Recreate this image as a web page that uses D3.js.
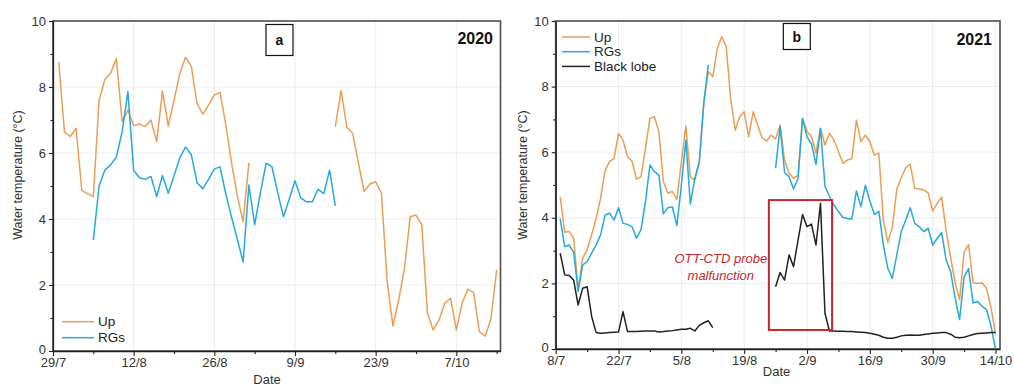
<!DOCTYPE html>
<html>
<head>
<meta charset="utf-8">
<script src="https://cdn.jsdelivr.net/npm/d3@7"></script>
<style>
  body { margin: 0; background: #fff; }
  svg { display: block; font-family: "Liberation Sans", Arial, sans-serif; }
</style>
</head>
<body>
<svg id="chart" width="1014" height="386"></svg>
<script>
// ---- Daily water temperature (°C) ----
// 2020 season, first value on 30/7
const start2020Up = "2020-07-30";
const up2020 = [
  8.75, 6.63, 6.5, 6.75, 4.87, 4.77, 4.68, 7.6, 8.23, 8.42,
  8.86, 6.95, 7.3, 6.83, 6.88, 6.8, 7.0, 6.34, 7.88, 6.82,
  7.6, 8.4, 8.9, 8.63, 7.5, 7.18, 7.45, 7.76, 7.83, 6.85,
  5.69, 4.68, 3.92, 5.7,
  null, null, null, null, null, null, null, null, null, null, null, null, null, null,
  6.8, 7.89, 6.78, 6.6, 5.7, 4.83, 5.06, 5.13, 4.78,
  2.1, 0.76, 1.55, 2.5, 4.07, 4.12, 3.82, 1.14, 0.64, 0.94,
  1.45, 1.6, 0.64, 1.45, 1.87, 1.77, 0.59, 0.45, 0.96, 2.46
];
// RGs 2020, first value on 5/8
const start2020Rgs = "2020-08-05";
const rgs2020 = [
  3.36, 5.0, 5.48, 5.64, 5.88, 6.65, 7.86, 5.47, 5.25, 5.2,
  5.29, 4.68, 5.32, 4.78, 5.3, 5.85, 6.18, 5.95, 5.1, 4.92,
  5.2, 5.52, 5.58, 4.75, 4.05, 3.38, 2.7, 5.03, 3.83, 4.8,
  5.69, 5.58, 4.8, 4.07, 4.6, 5.16, 4.64, 4.52, 4.52, 4.9,
  4.77, 5.48, 4.4
];

// 2021 season, all series start on 9/7
const start2021 = "2021-07-09";
const up2021 = [
  4.64, 3.56, 3.58, 3.38, 1.82, 2.77, 3.02, 3.48, 3.98, 4.59,
  5.44, 5.71, 5.81, 6.57, 6.37, 5.86, 5.73, 5.18, 5.25, 6.12,
  7.03, 7.08, 6.62, 5.1, 4.75, 4.8, 4.56, 5.7, 6.8, 5.25,
  5.15, 5.7, 7.5, 8.45, 8.3, 9.16, 9.52, 9.22, 7.6, 6.67,
  7.08, 7.23, 6.47, 7.23, 6.83, 6.44, 6.34, 6.52, 6.4, 6.83,
  5.76, 5.36, 5.2, 5.3, 7.03, 6.63, 6.47, 5.97, 6.73, 6.22,
  6.58, 6.37, 6.02, 5.66, 5.76, 5.81, 6.98, 6.32, 6.52, 6.32,
  5.91, 5.97, 3.93, 3.25, 3.7, 4.87, 5.22, 5.53, 5.63, 4.9,
  4.88, 4.85, 4.75, 4.21, 4.44, 4.63, 3.6, 2.79, 2.02, 1.5,
  2.95, 3.18, 2.03, 2.0, 2.02, 1.85, 1.25, 0.45
];
const rgs2021 = [
  3.98, 3.12, 3.17, 2.95, 1.75, 2.56, 2.66, 2.92, 3.17, 3.48,
  4.08, 4.14, 3.93, 4.31, 3.83, 3.8, 3.73, 3.38, 3.63, 4.49,
  5.61, 5.41, 5.3, 4.12, 4.31, 4.33, 3.76, 5.0, 6.37, 4.42,
  5.2, 5.71, 7.5, 8.66,
  null, null, null, null, null, null, null, null, null, null, null, null, null, null,
  5.51, 6.78,
  5.38, 5.25, 4.88, 5.2, 7.03, 6.47, 6.25, 5.63, 6.73, 4.96,
  4.65, 4.39, 4.19, 4.01, 3.98, 3.96, 4.82, 4.34, 4.99, 4.52,
  4.1, 4.2, 3.17, 2.46, 2.15, 2.87, 3.58, 3.93, 4.31, 3.83,
  3.73, 3.58, 3.68, 3.17, 3.37, 3.55, 2.71, 2.36, 1.55, 0.9,
  2.2, 2.45, 1.4, 1.45, 1.3, 1.2, 0.7, 0.0
];
const black2021 = [
  2.92, 2.26, 2.24, 2.1, 1.34, 1.85, 1.9, 1.0, 0.5, 0.48,
  0.49, 0.5, 0.51, 0.52, 1.14, 0.53, 0.53, 0.53, 0.54, 0.55,
  0.55, 0.55, 0.52, 0.53, 0.55, 0.56, 0.58, 0.6, 0.6, 0.63,
  0.55, 0.72, 0.8, 0.86, 0.65,
  null, null, null, null, null, null, null, null, null, null, null, null, null,
  1.9, 2.33,
  2.1, 2.87, 2.51, 3.32, 4.1, 3.73, 3.81, 3.17, 4.44, 1.09,
  0.55, 0.55, 0.54, 0.54, 0.53, 0.53, 0.52, 0.51, 0.5, 0.48,
  0.45, 0.42, 0.36, 0.33, 0.33, 0.36, 0.4, 0.42, 0.43, 0.42,
  0.42, 0.44, 0.46, 0.48, 0.49, 0.5, 0.5, 0.45, 0.36, 0.34,
  0.36, 0.4, 0.44, 0.47, 0.48, 0.49, 0.5, 0.5
];

// Axis tick labels
const ticks2020 = ["29/7", "12/8", "26/8", "9/9", "23/9", "7/10"];
const ticks2021 = ["8/7", "22/7", "5/8", "19/8", "2/9", "16/9", "30/9", "14/10"];
const yTicks = [0, 2, 4, 6, 8, 10];
const yMinor = [1, 3, 5, 7, 9];

const ORANGE = "#ec9d55";
const BLUE = "#25a9dd";
const BLACK = "#222222";
const RED = "#c9252d";
const DAY = 864e5;

const svg = d3.select("#chart");

function labelDate(year, s) {
  const [d, m] = s.split("/").map(Number);
  return new Date(Date.UTC(year, m - 1, d));
}
function daily(start, values) {
  const t0 = Date.parse(start + "T00:00:00Z");
  return values.map((v, i) => ({ date: new Date(t0 + i * DAY), value: v }));
}

function drawPanel(cfg) {
  const { l, r, t, b } = cfg.box;
  const x = d3.scaleUtc().domain(cfg.domain.map(s => new Date(s))).range([l, r]);
  const y = d3.scaleLinear().domain([0, 10]).range([b, t]);
  const g = svg.append("g");

  const majors = cfg.ticks.map(s => labelDate(cfg.year, s));
  const minors = [];
  for (let i = 0; i < majors.length; i++) {
    const m = new Date(+majors[i] + 7 * DAY);
    if (m <= x.domain()[1]) minors.push(m);
  }

  // grid
  g.append("g").selectAll("line").data(majors.slice(1)).join("line")
    .attr("x1", d => x(d)).attr("x2", d => x(d)).attr("y1", t).attr("y2", b)
    .attr("stroke", "#ececec").attr("stroke-width", 1);
  g.append("g").selectAll("line").data(yTicks.slice(1, -1)).join("line")
    .attr("x1", l).attr("x2", r).attr("y1", d => y(d)).attr("y2", d => y(d))
    .attr("stroke", "#ececec").attr("stroke-width", 1);

  // frame
  g.append("rect").attr("x", l).attr("y", t).attr("width", r - l).attr("height", b - t)
    .attr("fill", "none").attr("stroke", "#4d4d4d").attr("stroke-width", 1.6);

  // series
  const line = d3.line().defined(d => d.value != null)
    .x(d => x(d.date)).y(d => y(d.value));
  cfg.series.forEach(s => {
    g.append("path").datum(daily(s.start, s.values))
      .attr("d", line).attr("fill", "none").attr("stroke", s.color)
      .attr("stroke-width", 1.5).attr("stroke-linejoin", "round");
  });

  // axes
  const xAxis = g.append("g").attr("transform", `translate(0,${b})`)
    .call(d3.axisBottom(x).tickValues(majors).tickFormat((d, i) => cfg.ticks[i])
      .tickSize(5).tickPadding(2).tickSizeOuter(0));
  const xMinor = g.append("g").attr("transform", `translate(0,${b})`)
    .call(d3.axisBottom(x).tickValues(minors).tickFormat("").tickSize(3).tickSizeOuter(0));
  xMinor.select(".domain").remove();
  const yAxis = g.append("g").attr("transform", `translate(${l},0)`)
    .call(d3.axisLeft(y).tickValues(yTicks).tickSize(4).tickPadding(3).tickSizeOuter(0));
  const yMin = g.append("g").attr("transform", `translate(${l},0)`)
    .call(d3.axisLeft(y).tickValues(yMinor).tickFormat("").tickSize(2.5).tickSizeOuter(0));
  yMin.select(".domain").remove();
  [xAxis, xMinor, yAxis, yMin].forEach(a => {
    a.selectAll(".domain").attr("stroke", "#222").attr("stroke-width", 1.3);
    a.selectAll(".tick line").attr("stroke", "#222").attr("stroke-width", 1.1);
    a.selectAll(".tick text").attr("fill", "#333").style("font-size", "13px")
      .style("font-family", "'Liberation Sans', Arial, sans-serif");
  });
  // the zero label sits a touch higher so it clears the first date label
  yAxis.selectAll(".tick").filter(d => d === 0).select("text").attr("dy", "0.22em");

  // axis titles
  g.append("text").attr("transform", `translate(${cfg.yLabelX},175) rotate(-90)`)
    .attr("text-anchor", "middle").attr("fill", "#333").style("font-size", "12.5px")
    .text("Water temperature (°C)");
  g.append("text").attr("x", cfg.dateX).attr("y", cfg.dateY)
    .attr("text-anchor", "middle").attr("fill", "#333").style("font-size", "13px")
    .text("Date");

  // panel letter and year
  const lb = cfg.letterBox;
  g.append("rect").attr("x", lb.x).attr("y", lb.y).attr("width", lb.w).attr("height", lb.h)
    .attr("fill", "#fff").attr("stroke", "#111").attr("stroke-width", 1.2);
  g.append("text").attr("x", lb.x + lb.w / 2).attr("y", lb.y + lb.h / 2 + 5)
    .attr("text-anchor", "middle").attr("font-weight", "bold").style("font-size", "14px")
    .attr("fill", "#111").text(cfg.id);
  g.append("text").attr("x", cfg.yearX).attr("y", cfg.yearY)
    .attr("text-anchor", "end").attr("font-weight", "bold").style("font-size", "16px")
    .attr("fill", "#111").text(String(cfg.year));

  // legend
  cfg.series.forEach((s, i) => {
    const ly = cfg.legend.y0 + i * cfg.legend.dy;
    g.append("line").attr("x1", cfg.legend.x1).attr("x2", cfg.legend.x2)
      .attr("y1", ly).attr("y2", ly).attr("stroke", s.color).attr("stroke-width", 1.5);
    g.append("text").attr("x", cfg.legend.x2 + 4).attr("y", ly + 4.7)
      .attr("fill", "#222").style("font-size", "13.5px").text(s.name);
  });

  return { x, y, g };
}

drawPanel({
  id: "a", year: 2020, ticks: ticks2020,
  domain: ["2020-07-29T00:00:00Z", "2020-10-14T16:00:00Z"],
  box: { l: 53, r: 500.5, t: 21, b: 351 },
  series: [
    { name: "Up", start: start2020Up, values: up2020, color: ORANGE },
    { name: "RGs", start: start2020Rgs, values: rgs2020, color: BLUE }
  ],
  yLabelX: 21.5, dateX: 267, dateY: 383.5,
  letterBox: { x: 266, y: 24.5, w: 27, h: 31 },
  yearX: 493, yearY: 43.5,
  legend: { x1: 62, x2: 94, y0: 321.7, dy: 16 }
});

const pb = drawPanel({
  id: "b", year: 2021, ticks: ticks2021,
  domain: ["2021-07-08T00:00:00Z", "2021-10-15T00:00:00Z"],
  box: { l: 555.7, r: 1000, t: 21, b: 349 },
  series: [
    { name: "Up", start: start2021, values: up2021, color: ORANGE },
    { name: "RGs", start: start2021, values: rgs2021, color: BLUE },
    { name: "Black lobe", start: start2021, values: black2021, color: BLACK }
  ],
  yLabelX: 527, dateX: 776.5, dateY: 375.5,
  letterBox: { x: 783.3, y: 23.5, w: 27, h: 26 },
  yearX: 992, yearY: 45,
  legend: { x1: 562, x2: 590, y0: 37, dy: 14.7 }
});

// probe malfunction period
const boxStart = new Date("2021-08-24T12:00:00Z");
const boxEnd = new Date("2021-09-07T14:00:00Z");
pb.g.append("rect")
  .attr("x", pb.x(boxStart)).attr("y", pb.y(4.54))
  .attr("width", pb.x(boxEnd) - pb.x(boxStart)).attr("height", pb.y(0.58) - pb.y(4.54))
  .attr("fill", "none").attr("stroke", RED).attr("stroke-width", 2);
const noteX = pb.x(new Date("2021-08-13T19:00:00Z"));
pb.g.append("text").attr("x", noteX).attr("y", pb.y(2.63))
  .attr("text-anchor", "middle").attr("fill", RED).attr("font-style", "italic")
  .style("font-size", "13px").text("OTT-CTD probe");
pb.g.append("text").attr("x", noteX).attr("y", pb.y(2.1))
  .attr("text-anchor", "middle").attr("fill", RED).attr("font-style", "italic")
  .style("font-size", "13px").text("malfunction");
</script>
</body>
</html>
